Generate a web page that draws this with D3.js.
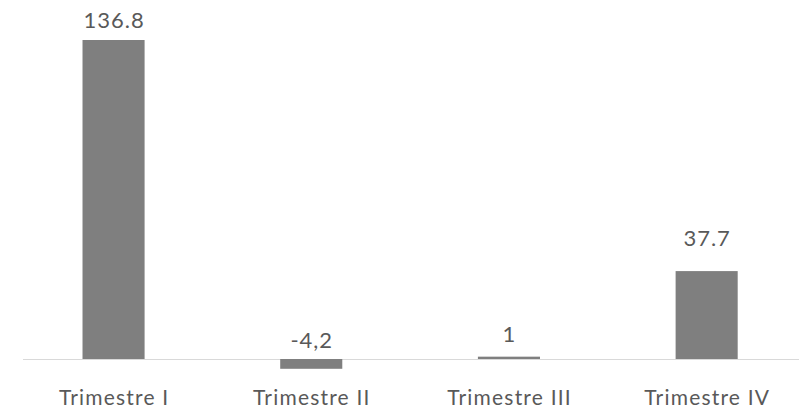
<!DOCTYPE html>
<html>
<head>
<meta charset="utf-8">
<script src="https://cdn.jsdelivr.net/npm/d3@7"></script>
<style>
  html, body { margin: 0; padding: 0; background: #ffffff; }
  svg { display: block; }
</style>
</head>
<body>
<svg id="chart" width="799" height="412"></svg>
<script>
// Quarterly values
const categories = ["Trimestre I", "Trimestre II", "Trimestre III", "Trimestre IV"];
const values = [136.8, -4.2, 1, 37.7];
const valueLabels = ["136.8", "-4,2", "1", "37.7"];

// Layout
const W = 799, H = 412;
const baselineY = 359;
const topY = 40;
const labelLift = [12, 11, 15, 25];   // gap between bar end (or baseline) and its value label

const svg = d3.select("#chart");

const step = 197.7;
const x = d3.scaleBand()
  .domain(categories)
  .range([14.7, 14.7 + step * 4])
  .paddingInner(0.686)
  .paddingOuter(0.343);

const y = d3.scaleLinear()
  .domain([0, 136.8])
  .range([baselineY, topY]);

// Category axis line
svg.append("line")
  .attr("x1", 23).attr("x2", W)
  .attr("y1", baselineY + 0.5).attr("y2", baselineY + 0.5)
  .attr("stroke", "#d9d9d9").attr("stroke-width", 1.2);

// Bars
svg.selectAll("rect.bar")
  .data(values)
  .join("rect")
  .attr("class", "bar")
  .attr("x", (d, i) => x(categories[i]))
  .attr("width", x.bandwidth())
  .attr("y", d => y(Math.max(d, 0)))
  .attr("height", d => Math.abs(y(d) - y(0)))
  .attr("fill", "#7f7f7f");

// Value labels
svg.selectAll("text.val")
  .data(values)
  .join("text")
  .attr("class", "val")
  .attr("x", (d, i) => x(categories[i]) + x.bandwidth() / 2 + 0.5)
  .attr("y", (d, i) => y(Math.max(d, 0)) - labelLift[i])
  .attr("text-anchor", "middle")
  .attr("font-family", "Lato, 'Open Sans', sans-serif")
  .attr("font-size", 22)
  .attr("letter-spacing", 1)
  .attr("fill", "#595959")
  .text((d, i) => valueLabels[i]);

// Category labels
svg.selectAll("text.cat")
  .data(categories)
  .join("text")
  .attr("class", "cat")
  .attr("x", d => x(d) + x.bandwidth() / 2 + 0.6)
  .attr("y", 405)
  .attr("text-anchor", "middle")
  .attr("font-family", "Lato, 'Open Sans', sans-serif")
  .attr("font-size", 21)
  .attr("letter-spacing", 1.2)
  .attr("fill", "#595959")
  .text(d => d);
</script>
</body>
</html>
